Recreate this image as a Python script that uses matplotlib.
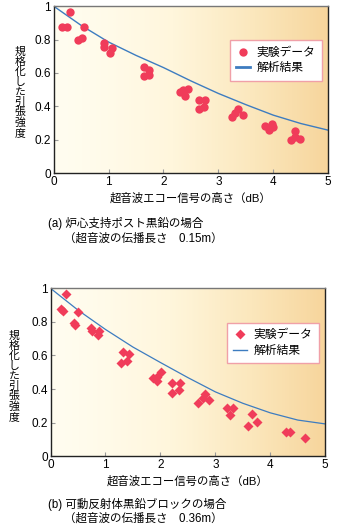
import numpy as np
import matplotlib.pyplot as plt
from matplotlib.colors import LinearSegmentedColormap

plt.rcParams['font.family'] = ['Liberation Sans', 'Noto Sans CJK JP']

# (a) core support post graphite
a_x = [0.15, 0.24, 0.29, 0.55, 0.45, 0.52, 0.92, 0.92, 1.06, 1.03,
       1.64, 1.73, 1.64, 1.73, 2.30, 2.36, 2.44, 2.39, 2.65, 2.76,
       2.64, 2.74, 3.24, 3.30, 3.36, 3.44, 3.85, 3.97, 3.93, 4.00,
       4.39, 4.32, 4.48, 4.40]
a_y = [0.876, 0.876, 0.966, 0.873, 0.800, 0.807, 0.777, 0.757, 0.750, 0.720,
       0.633, 0.620, 0.580, 0.588, 0.488, 0.498, 0.502, 0.462, 0.438, 0.438,
       0.382, 0.398, 0.333, 0.360, 0.383, 0.349, 0.283, 0.293, 0.259, 0.277,
       0.253, 0.200, 0.203, 0.219]
a_curve_x = [0, 0.5, 1, 1.5, 2, 2.5, 3, 3.5, 4, 4.5, 5]
a_curve_y = [1.0, 0.885, 0.785, 0.705, 0.632, 0.552, 0.477, 0.41, 0.347, 0.297, 0.257]

# (b) movable reflector graphite block
b_x = [0.19, 0.22, 0.29, 0.50, 0.43, 0.44, 0.73, 0.75, 0.89, 0.87,
       1.32, 1.43, 1.29, 1.40, 1.87, 1.94, 2.01, 1.94, 2.21, 2.36,
       2.22, 2.33, 2.69, 2.78, 2.81, 2.89, 3.21, 3.33, 3.27, 3.60,
       3.66, 3.75, 4.29, 4.36, 4.64]
b_y = [0.875, 0.867, 0.966, 0.861, 0.795, 0.781, 0.761, 0.748, 0.746, 0.720,
       0.618, 0.608, 0.557, 0.569, 0.467, 0.473, 0.499, 0.449, 0.437, 0.437,
       0.374, 0.394, 0.314, 0.344, 0.368, 0.334, 0.284, 0.284, 0.245, 0.179,
       0.250, 0.205, 0.145, 0.145, 0.111]
b_curve_x = [0, 0.5, 1, 1.5, 2, 2.5, 3, 3.5, 4, 4.5, 5]
b_curve_y = [1.0, 0.87, 0.755, 0.65, 0.558, 0.468, 0.383, 0.315, 0.258, 0.215, 0.192]

xticks = [0, 1, 2, 3, 4, 5]
yticks = [0, 0.2, 0.4, 0.6, 0.8, 1]
ytick_labels = ['0', '0.2', '0.4', '0.6', '0.8', '1']

xlabel = '超音波エコー信号の高さ（dB）'
ylabel = '規\n格\n化\nし\nた\n引\n張\n強\n度'
legend_labels = ['実験データ', '解析結果']

red = '#f03c5a'
blue = '#3d7cc0'
bg = LinearSegmentedColormap.from_list(
    'bg', ['#fffdf0', '#fff6dc', '#fbe7bc', '#f7d59c'])

fig = plt.figure(figsize=(3.37, 5.31), dpi=100)


def draw_panel(rect, px, py, cx, cy, marker, msize, lw, leg_lw, leg_bbox):
    ax = fig.add_axes(rect)
    grad = np.linspace(0, 1, 256).reshape(1, -1) ** 1.3
    ax.imshow(grad, cmap=bg, extent=[0, 5, 0, 1], aspect='auto', zorder=0)
    ax.plot(cx, cy, color=blue, lw=lw, zorder=2, label=legend_labels[1])
    ax.plot(px, py, ls='none', marker=marker, ms=msize, color=red,
            mec='none', zorder=3, label=legend_labels[0])
    ax.set_xlim(0, 5)
    ax.set_ylim(0, 1)
    ax.set_xticks(xticks)
    ax.set_yticks(yticks)
    ax.set_yticklabels(ytick_labels)
    ax.tick_params(direction='in', length=3, width=0.8, color='#999999',
                   labelsize=8.5, pad=2)
    for s in ax.spines.values():
        s.set_linewidth(1.0)
        s.set_color('#222222')
    ax.spines['top'].set_color('#777777')
    ax.set_xlabel(xlabel, fontsize=8.2, labelpad=3)
    h, l = ax.get_legend_handles_labels()
    leg = ax.legend(h[::-1], l[::-1], loc='upper left', bbox_to_anchor=leg_bbox,
                    fontsize=8.5, frameon=True, fancybox=False,
                    handlelength=1.2, handletextpad=0.5, borderpad=0.55,
                    labelspacing=0.3)
    leg.get_frame().set_edgecolor('#f0a0a8')
    leg.get_frame().set_linewidth(1.0)
    leg.get_frame().set_facecolor('white')
    leg.get_frame().set_alpha(1)
    for line in leg.get_lines():
        line.set_linewidth(leg_lw)
    return ax


ax1 = draw_panel([0.159, 0.674, 0.815, 0.3145], a_x, a_y, a_curve_x, a_curve_y,
                 'o', 6, 1.0, 2.0, (0.62, 0.83))
ax2 = draw_panel([0.150, 0.141, 0.815, 0.316], b_x, b_y, b_curve_x, b_curve_y,
                 'D', 5, 0.9, 1.0, (0.62, 0.83))

fig.text(20 / 337, 1 - 92 / 531, ylabel, fontsize=7.8, ha='center',
         va='center', linespacing=1.0)
fig.text(14 / 337, 1 - 376 / 531, ylabel, fontsize=7.8, ha='center',
         va='center', linespacing=1.0)

fig.text(48 / 337, 1 - 223 / 531, '(a) 炉心支持ポスト黒鉛の場合', fontsize=8.3,
         ha='left', va='center')
fig.text(64 / 337, 1 - 239 / 531, '（超音波の伝播長さ　0.15m）', fontsize=8.3,
         ha='left', va='center')
fig.text(48 / 337, 1 - 504 / 531, '(b) 可動反射体黒鉛ブロックの場合', fontsize=8.3,
         ha='left', va='center')
fig.text(64 / 337, 1 - 519 / 531, '（超音波の伝播長さ　0.36m）', fontsize=8.3,
         ha='left', va='center')

fig.savefig('out.png', dpi=100)
